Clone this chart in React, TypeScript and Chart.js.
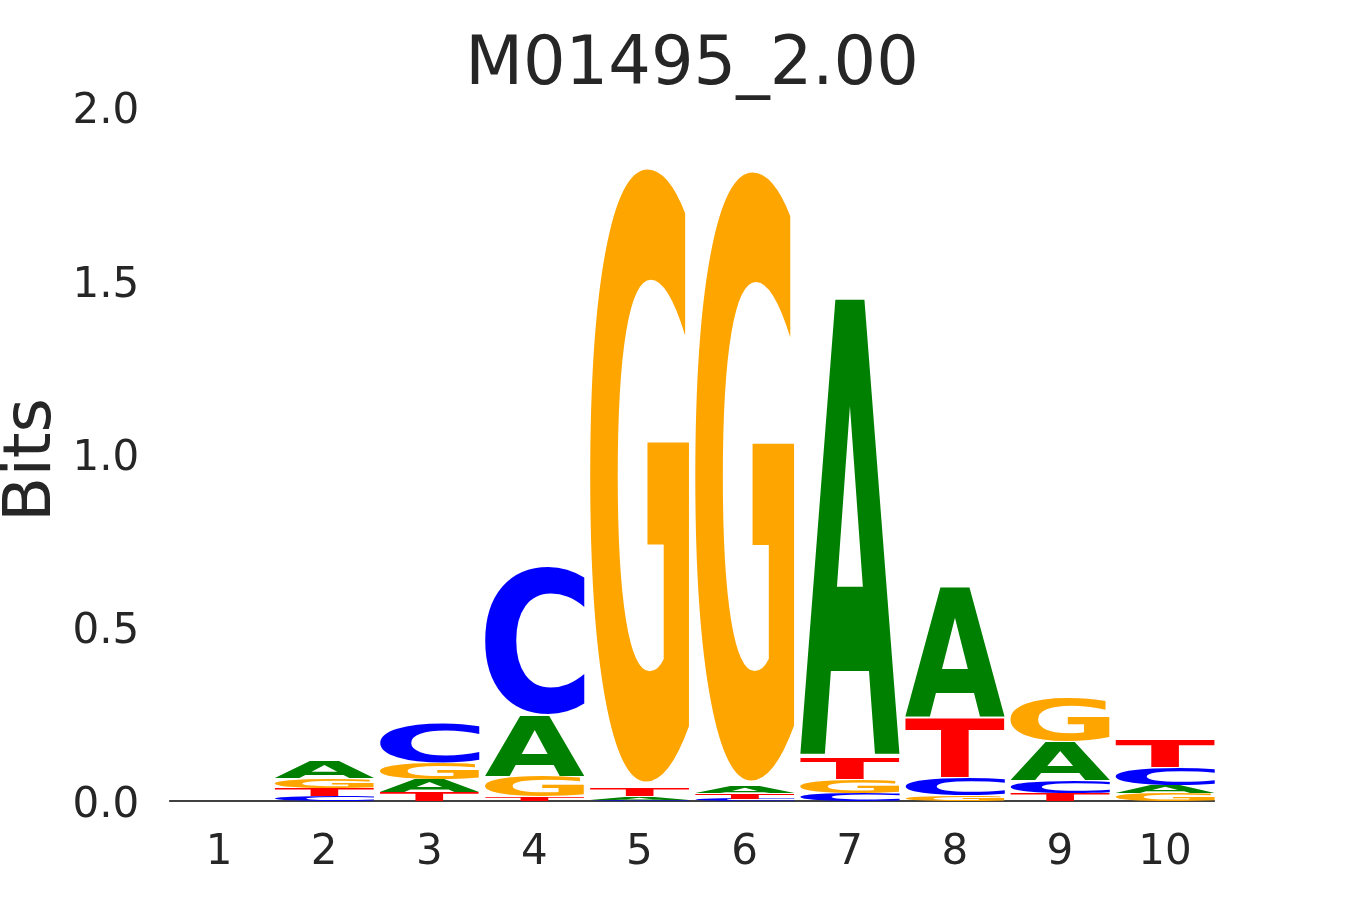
import React, { useEffect, useRef } from 'react';
import { Chart, registerables } from 'chart.js';

Chart.register(...registerables);

const TITLE = 'M01495_2.00';
const Y_LABEL = 'Bits';
const POSITIONS = ['1', '2', '3', '4', '5', '6', '7', '8', '9', '10'];
const BASES = ['A', 'C', 'G', 'T'];
const A_BITS = [0.001, 0.049, 0.037, 0.177, 0.009, 0.017, 1.338, 0.38, 0.112, 0.023];
const C_BITS = [0.001, 0.014, 0.115, 0.434, 0.004, 0.006, 0.022, 0.05, 0.035, 0.053];
const G_BITS = [0.001, 0.029, 0.046, 0.059, 1.81, 1.798, 0.039, 0.016, 0.126, 0.022];
const T_BITS = [0.001, 0.023, 0.026, 0.012, 0.023, 0.016, 0.062, 0.174, 0.023, 0.08];
const Y_TICKS = [0, 0.5, 1, 1.5, 2];
const BASE_COLORS: Record<string, string> = { A: '#008000', C: '#0000ff', G: '#ffa500', T: '#ff0000' };

const TEXT_COLOR = '#262626';
const FONT = '"DejaVu Sans", "Liberation Sans", sans-serif';
const VPAD = 0.02;

export default function App() {
  const canvasRef = useRef<HTMLCanvasElement | null>(null);

  useEffect(() => {
    const canvas = canvasRef.current;
    if (!canvas) return;

    const bitsByBase: Record<string, number[]> = { A: A_BITS, C: C_BITS, G: G_BITS, T: T_BITS };
    // for each position: bases sorted ascending (smallest at bottom)
    const sorted = POSITIONS.map((_, i) =>
      BASES.map((b) => ({ b, v: bitsByBase[b][i] })).sort((p, q) => p.v - q.v)
    );
    const rankLetters = BASES.map((_, r) => sorted.map((s) => s[r].b));
    const datasets = BASES.map((_, r) => ({
      label: 'rank' + r,
      data: sorted.map((s) => s[r].v),
      backgroundColor: 'rgba(0,0,0,0)',
      borderWidth: 0,
      barPercentage: 0.95,
      categoryPercentage: 1.0,
    }));

    const metricsCache: Record<string, any> = {};
    const logoPlugin = {
      id: 'logoLetters',
      beforeDatasetsDraw(chart: any) {
        const ctx = chart.ctx;
        const first = chart.getDatasetMeta(0).data[0];
        const last = chart.getDatasetMeta(0).data[POSITIONS.length - 1];
        if (!first || !last) return;
        const y0 = chart.scales.y.getPixelForValue(0);
        ctx.save();
        ctx.strokeStyle = '#000000';
        ctx.lineWidth = 1.5;
        ctx.beginPath();
        ctx.moveTo(first.x - first.width / 2, y0);
        ctx.lineTo(last.x + last.width / 2, y0);
        ctx.stroke();
        ctx.restore();
      },
      afterDatasetsDraw(chart: any) {
        const ctx = chart.ctx;
        ctx.save();
        ctx.font = 'bold 200px ' + FONT;
        ctx.textAlign = 'left';
        ctx.textBaseline = 'alphabetic';
        for (let r = 0; r < BASES.length; r++) {
          const meta = chart.getDatasetMeta(r);
          meta.data.forEach((el: any, i: number) => {
            const p = el.getProps(['x', 'y', 'base', 'width'], true);
            const letter = rankLetters[r][i];
            const top = Math.min(p.y, p.base);
            const bottom = Math.max(p.y, p.base);
            const h = bottom - top;
            if (h <= 0) return;
            const pad = (VPAD / 2) * h;
            const innerH = h - 2 * pad;
            const left = p.x - p.width / 2;
            const w = p.width;
            let m = metricsCache[letter];
            if (!m) {
              const mt = ctx.measureText(letter);
              m = {
                l: mt.actualBoundingBoxLeft,
                r: mt.actualBoundingBoxRight,
                a: mt.actualBoundingBoxAscent,
                d: mt.actualBoundingBoxDescent,
              };
              metricsCache[letter] = m;
            }
            const inkW = m.l + m.r;
            const inkH = m.a + m.d;
            ctx.save();
            ctx.translate(left, top + pad);
            ctx.scale(w / inkW, innerH / inkH);
            ctx.fillStyle = BASE_COLORS[letter];
            ctx.fillText(letter, m.l, m.a);
            ctx.restore();
          });
        }
        ctx.restore();
      },
    };

    const chart = new Chart(canvas, {
      type: 'bar',
      data: { labels: POSITIONS, datasets },
      options: {
        animation: false,
        responsive: false,
        events: [],
        layout: { padding: { left: 0, right: 132.5, top: 0, bottom: 0 } },
        plugins: {
          legend: { display: false },
          tooltip: { enabled: false },
          title: {
            display: true,
            text: TITLE,
            fullSize: false,
            color: TEXT_COLOR,
            font: { family: FONT, size: 67, weight: 'normal', lineHeight: 1.2 },
            padding: { top: 26, bottom: 1.1 },
          },
        },
        scales: {
          x: {
            type: 'category',
            stacked: true,
            offset: true,
            grid: { display: false, drawTicks: false },
            border: { display: false },
            ticks: {
              color: TEXT_COLOR,
              font: { family: FONT, size: 42, lineHeight: 1.2 },
              padding: 15,
              maxRotation: 0,
              autoSkip: false,
            },
            afterFit(scale: any) {
              scale.height = 87.6;
            },
          },
          y: {
            type: 'linear',
            stacked: true,
            min: -0.033,
            max: 2,
            grid: { display: false, drawTicks: false },
            border: { display: false },
            ticks: {
              color: TEXT_COLOR,
              font: { family: FONT, size: 42, lineHeight: 1.2 },
              padding: 27.3,
              labelOffset: 5,
              callback: (v: any) => Number(v).toFixed(1),
            },
            afterBuildTicks(scale: any) {
              scale.ticks = Y_TICKS.map((v) => ({ value: v }));
            },
            afterFit(scale: any) {
              scale.width = 166.5;
            },
            title: {
              display: true,
              text: Y_LABEL,
              color: TEXT_COLOR,
              font: { family: FONT, size: 66, weight: 'normal', lineHeight: 1.0 },
              padding: 0,
            },
          },
        },
      },
      plugins: [logoPlugin],
    } as any);

    return () => {
      chart.destroy();
    };
  }, []);

  return (
    <div style={{ position: 'absolute', left: 0, top: 0, width: 1350, height: 900, background: '#ffffff' }}>
      <canvas ref={canvasRef} width={1350} height={900} style={{ display: 'block', width: 1350, height: 900 }} />
    </div>
  );
}
